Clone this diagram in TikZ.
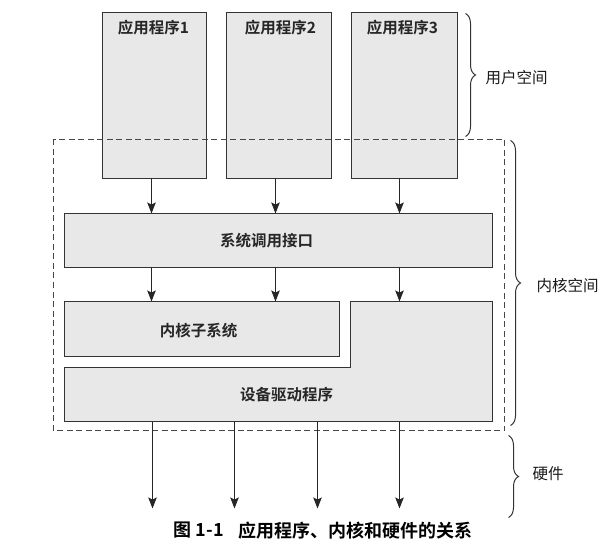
\documentclass[tikz,border=0pt]{standalone}
\usepackage{fontspec}
\setmainfont{Noto Sans CJK SC}[BoldFont={Noto Sans CJK SC Bold}]
\usetikzlibrary{arrows.meta,decorations.pathreplacing}
\begin{document}
\begin{tikzpicture}[x=1pt,y=-1pt,
  box/.style={draw=black!80, fill=black!9, line width=1.2pt, inner sep=0, outer sep=0, anchor=north west},
  lbox/.style={draw=black!80, fill=black!9, line width=1.2pt},
  lbl/.style={font=\bfseries\fontsize{15.5}{15.5}\selectfont, inner sep=0, text=black!85},
  arr/.style={-{Stealth[length=11pt,width=8.5pt,inset=2pt]}, line width=1pt, draw=black!85},
  br/.style={decorate, decoration={brace, amplitude=10pt}, line width=1pt, draw=black!80},
  side/.style={font=\fontsize{15.5}{15.5}\selectfont, anchor=west, inner sep=0, text=black!90},
  captxt/.style={font=\bfseries\fontsize{18}{18}\selectfont, anchor=west, inner sep=0}]
\useasboundingbox (0,0) rectangle (608,548);
\begin{scope}[shift={(0.5,0.5)}]
% application boxes
\node[box, minimum width=104, minimum height=166] (app1) at (102,12) {};
\node[box, minimum width=105, minimum height=166] (app2) at (226,12) {};
\node[box, minimum width=106, minimum height=166] (app3) at (351,12) {};
\node[lbl] (t1) at (153,27) {应用程序1};
\node[lbl] (t2) at (280,27) {应用程序2};
\node[lbl] (t3) at (402,27) {应用程序3};
% kernel boxes
\node[box, minimum width=428, minimum height=54] (sys) at (64,213) {};
\node[lbl] (tsys) at (266,240) {系统调用接口};
\node[box, minimum width=275, minimum height=55] (ksub) at (64,301) {};
\node[lbl] (tksub) at (198,330) {内核子系统};
\draw[lbox]
  (64,367) coordinate (d1) -- (350,367) -- (350,301) -- (492,301) -- (492,421) -- (64,421) coordinate (d2) -- cycle;
\node[lbl] (tdev) at (286,394) {设备驱动程序};
% kernel space dashed frame
\draw[dash pattern=on 6pt off 3.5pt, line width=1pt, draw=black!72] (53,139) rectangle (504,430);
% arrows
\foreach \x [count=\i] in {151,275,399} {
  \coordinate (ua\i) at (\x,178);
  \coordinate (ub\i) at (\x,213);
  \coordinate (ma\i) at (\x,267);
  \coordinate (mb\i) at (\x,301);
  \draw[arr] (ua\i) -- (ub\i);
  \draw[arr] (ma\i) -- (mb\i);
}
\foreach \x [count=\i] in {152,234,317,399} {
  \coordinate (ha\i) at (\x,421);
  \coordinate (hb\i) at (\x,508);
  \draw[arr] (ha\i) -- (hb\i);
}
% braces
\coordinate (bu1) at (465,13); \coordinate (bu2) at (465,136);
\draw[br] (bu1) -- (bu2);
\node[side] (lu) at (485,77) {用户空间};
\coordinate (bk1) at (510,140); \coordinate (bk2) at (510,425);
\draw[br] (bk1) -- (bk2);
\node[side] (lk) at (536,285) {内核空间};
\coordinate (bh1) at (508,435); \coordinate (bh2) at (508,517);
\draw[br] (bh1) -- (bh2);
\node[side] (lh) at (532,473) {硬件};
% caption
\node[captxt] (c1) at (173,530) {图 1-1};
\node[captxt] (c2) at (238,530) {应用程序、内核和硬件的关系};
\end{scope}
\end{tikzpicture}
\end{document}
